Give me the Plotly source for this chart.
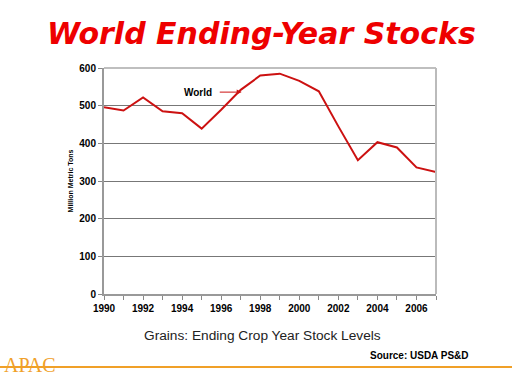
import plotly.graph_objects as go

years = list(range(1990, 2008))
stocks = [496, 487, 522, 485, 480, 439, 489, 542, 580, 585, 566, 538, 445, 355, 403, 389, 336, 324]

x_ticks = list(range(1990, 2008))
x_labels = [str(y) if y % 2 == 0 else "" for y in x_ticks]
y_ticks = [0, 100, 200, 300, 400, 500, 600]

W, H = 512, 384
L, R, T, B = 104, 436, 68, 294

def px(x):
    return (x - L) / (R - L)

def py(y):
    return (B - y) / (B - T)

fig = go.Figure()
fig.add_trace(go.Scatter(x=years, y=stocks, mode="lines",
                         line=dict(color="#CC1111", width=2), showlegend=False))

fig.update_layout(
    width=W, height=H,
    margin=dict(l=L, r=W - R, t=T, b=H - B, pad=0),
    paper_bgcolor="white", plot_bgcolor="white",
    font=dict(family="Liberation Sans, Arial, sans-serif", color="black"),
    xaxis=dict(range=[1990, 2007], tickvals=x_ticks, ticktext=x_labels,
               ticks="outside", ticklen=4, tickcolor="#888", showgrid=False,
               showline=True, linecolor="#999", linewidth=1.5,
               tickfont=dict(size=10, weight="bold"), zeroline=False),
    yaxis=dict(range=[0, 600], tickvals=y_ticks, ticks="outside", ticklen=4,
               tickcolor="#888", showgrid=True, gridcolor="#777", gridwidth=1,
               showline=True, linecolor="#999", linewidth=2,
               tickfont=dict(size=10, weight="bold"), zeroline=False,
               title=dict(text="Million Metric Tons", font=dict(size=7, weight="bold"), standoff=5)),
    shapes=[
        dict(type="line", xref="paper", yref="paper", x0=0, x1=1, y0=1, y1=1,
             line=dict(color="#AAA", width=1.5)),
        dict(type="line", xref="paper", yref="paper", x0=1, x1=1, y0=0, y1=1,
             line=dict(color="#BBB", width=2)),
        dict(type="line", xref="paper", yref="paper", x0=px(0), x1=px(W), y0=py(367), y1=py(367),
             line=dict(color="#F0A028", width=2)),
    ],
    annotations=[
        dict(text="World Ending-Year Stocks", xref="paper", yref="paper",
             x=px(261), y=py(33), showarrow=False, xanchor="center", yanchor="middle",
             font=dict(family="DejaVu Sans", size=30, color="#EE0000", weight="bold", style="italic")),
        dict(text="World", x=1994.8, y=536, showarrow=False,
             font=dict(size=10, weight="bold")),
        dict(text="", x=1997.05, y=536, ax=1995.85, ay=536, axref="x", ayref="y",
             showarrow=True, arrowhead=2, arrowsize=1, arrowwidth=1, arrowcolor="#CC1111"),
        dict(text="Grains: Ending Crop Year Stock Levels", xref="paper", yref="paper",
             x=px(262), y=py(335), showarrow=False, xanchor="center", yanchor="middle",
             font=dict(size=13.7, color="#222")),
        dict(text="Source: USDA PS&D", xref="paper", yref="paper",
             x=px(419), y=py(355), showarrow=False, xanchor="center", yanchor="middle",
             font=dict(size=10, weight="bold")),
        dict(text="APAC", xref="paper", yref="paper",
             x=px(30), y=py(365), showarrow=False, xanchor="center", yanchor="middle",
             font=dict(family="Liberation Serif", size=20, color="#F0A028")),
    ],
)

fig.write_html("out.html", config={"displayModeBar": False},
               post_script="document.body.style.margin='0px';")
